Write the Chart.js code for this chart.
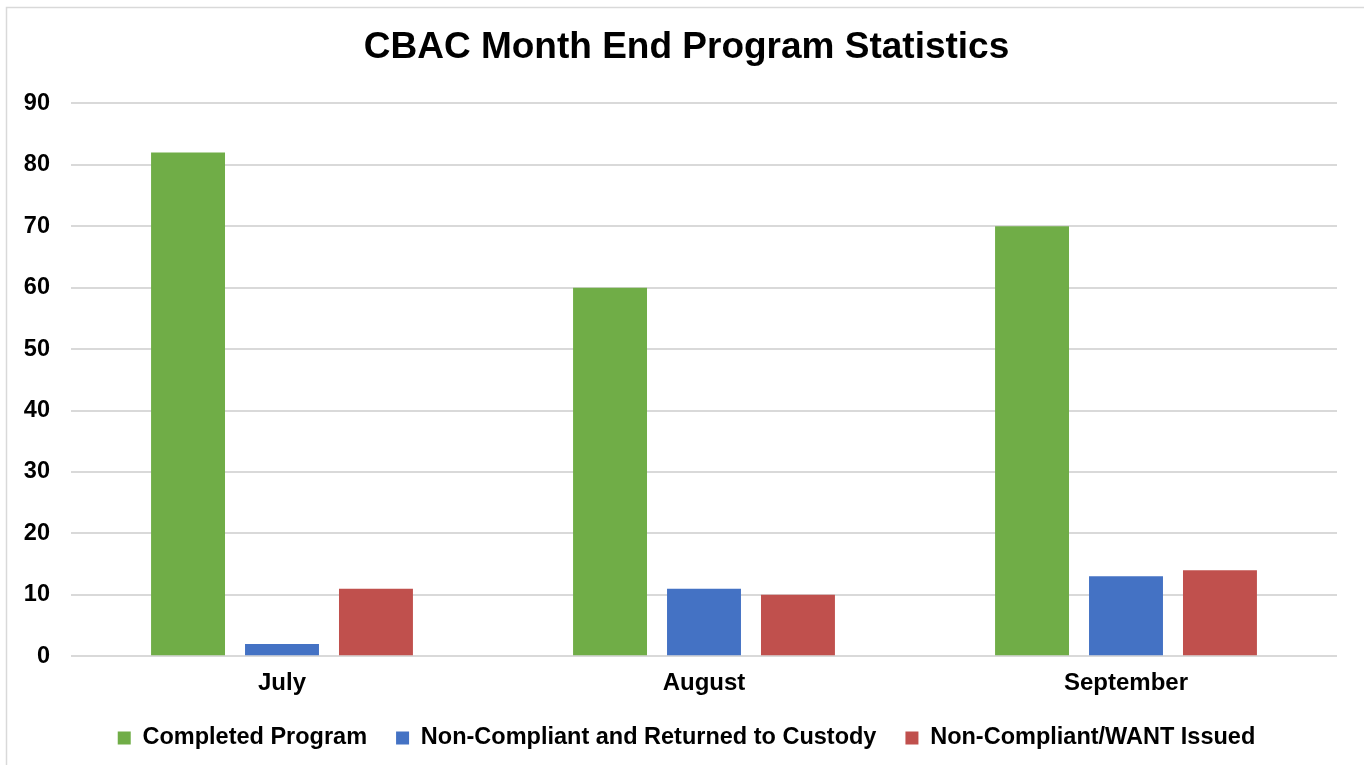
<!DOCTYPE html>
<html>
<head>
<meta charset="utf-8">
<script src="https://cdn.jsdelivr.net/npm/chart.js@4"></script>
<style>
  html, body { margin: 0; padding: 0; background: #fff; }
  #wrap { width: 1364px; height: 765px; position: relative; }
</style>
</head>
<body>
<div id="wrap"><canvas id="chart"></canvas></div>
<script>
const months = ['July', 'August', 'September'];
const completed = [82, 60, 70];
const returnedToCustody = [2, 11, 13];
const wantIssued = [11, 10, 14];

const FONT = '"Liberation Sans", Arial, sans-serif';

// light grey frame around the whole chart
const framePlugin = {
    id: 'frame',
    beforeDraw(chart) {
        const c = chart.ctx;
        c.save();
        c.fillStyle = '#fff';
        c.fillRect(0, 0, chart.width, chart.height);
        c.strokeStyle = '#d9d9d9';
        c.lineWidth = 1.5;
        c.strokeRect(6.5, 7.5, chart.width + 20, chart.height + 20);
        c.restore();
    }
};

new Chart(document.getElementById('chart'), {
    type: 'bar',
    data: {
        labels: months,
        datasets: [
            { label: 'Completed Program', data: completed, backgroundColor: '#70ad47', yAxisID: 'y' },
            { label: 'Non-Compliant and Returned to Custody', data: returnedToCustody, backgroundColor: '#4472c4', yAxisID: 'y' },
            { label: 'Non-Compliant/WANT Issued', data: wantIssued, backgroundColor: '#c0504d', yAxisID: 'y' }
        ]
    },
    options: {
        responsive: true,
        maintainAspectRatio: false,
        animation: false,
        datasets: {
            bar: { categoryPercentage: 0.668, barPercentage: 0.787 }
        },
        layout: { padding: { left: 16, right: 7, top: 7, bottom: 5.3 } },
        scales: {
            x: {
                grid: { display: false, drawTicks: false },
                border: { display: false },
                ticks: { color: '#000', padding: 13, font: { family: FONT, size: 24, weight: 'bold' } },
                afterFit(scale) { scale.height = 41; }
            },
            y: {
                min: 0,
                max: 90,
                ticks: { stepSize: 10, color: '#000', padding: 21, font: { family: FONT, size: 23.5, weight: 'bold' } },
                grid: { color: '#d9d9d9', lineWidth: 2, drawTicks: false },
                border: { display: false },
                afterFit(scale) { scale.width = 55; }
            },
            // empty spacer on the right so the plot ends where the original does
            spacer: {
                position: 'right',
                min: 0,
                max: 90,
                grid: { display: false, drawTicks: false },
                border: { display: false },
                ticks: { display: false },
                afterFit(scale) { scale.width = 20; }
            }
        },
        plugins: {
            title: {
                display: true,
                text: 'CBAC Month End Program Statistics',
                color: '#000',
                font: { family: FONT, size: 37, weight: 'bold' },
                padding: { top: 19, bottom: 33 }
            },
            legend: {
                position: 'bottom',
                labels: {
                    color: '#000',
                    boxWidth: 13,
                    boxHeight: 13,
                    padding: 29,
                    font: { family: FONT, size: 23.5, weight: 'bold' }
                }
            },
            tooltip: { enabled: false }
        }
    },
    plugins: [framePlugin]
});
</script>
</body>
</html>
